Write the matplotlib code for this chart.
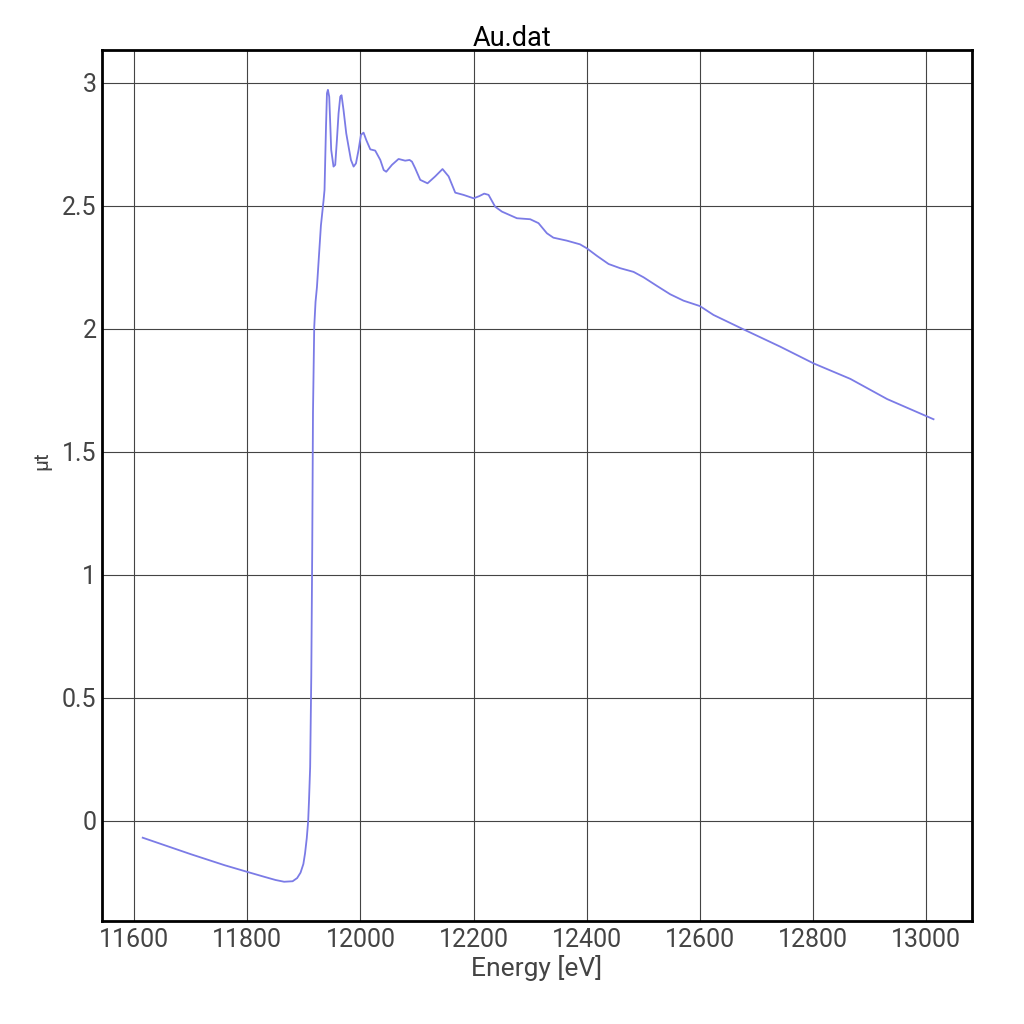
import matplotlib
matplotlib.use("Agg")
import matplotlib.pyplot as plt

energy = [11615, 11700, 11760, 11800, 11830, 11850, 11865, 11880, 11888, 11894,
          11899, 11902, 11905, 11907.5, 11909, 11911, 11913, 11914.7, 11916, 11918.2,
          11920.5, 11923, 11925.8, 11930, 11934.6, 11936.4, 11939, 11940.7, 11942.4, 11944.7,
          11946.5, 11948.2, 11952.3, 11955.3, 11958.3, 11961.2, 11964.2, 11966.5, 11970, 11974.8,
          11978.9, 11983.1, 11987.8, 11992, 11996.6, 12000.8, 12005.4, 12010.2, 12017.3, 12026,
          12035, 12041, 12045.5, 12055.6, 12067.3, 12079, 12086.7, 12091, 12096.7, 12105.6,
          12118.5, 12132, 12145, 12155.8, 12167.5, 12182, 12200, 12210, 12218.7, 12226.4,
          12238, 12250, 12276.5, 12300, 12314.7, 12329.5, 12341, 12364.7, 12388, 12400,
          12418, 12438.6, 12459, 12482.7, 12500.4, 12524, 12547.5, 12571, 12600, 12624,
          12671, 12742, 12801, 12866, 12931, 13013]
mut = [-0.068, -0.135, -0.180, -0.207, -0.227, -0.240, -0.247, -0.245, -0.232, -0.210,
       -0.175, -0.131, -0.070, 0.0, 0.085, 0.22, 0.59, 1.118, 1.66, 2.008,
       2.11, 2.17, 2.27, 2.42, 2.52, 2.565, 2.82, 2.958, 2.972, 2.944,
       2.836, 2.728, 2.66, 2.667, 2.768, 2.876, 2.944, 2.95, 2.89, 2.795,
       2.741, 2.687, 2.66, 2.673, 2.728, 2.789, 2.798, 2.768, 2.73, 2.725,
       2.687, 2.646, 2.639, 2.667, 2.691, 2.684, 2.687, 2.680, 2.653, 2.606,
       2.592, 2.62, 2.65, 2.62, 2.554, 2.545, 2.531, 2.540, 2.55, 2.545,
       2.497, 2.477, 2.45, 2.446, 2.43, 2.389, 2.371, 2.359, 2.344, 2.328,
       2.297, 2.264, 2.247, 2.232, 2.21, 2.175, 2.141, 2.115, 2.093, 2.057,
       2.005, 1.928, 1.86, 1.797, 1.715, 1.633]

x_ticks = [11600, 11800, 12000, 12200, 12400, 12600, 12800, 13000]
y_ticks = [0, 0.5, 1, 1.5, 2, 2.5, 3]
y_tick_labels = ["0", "0.5", "1", "1.5", "2", "2.5", "3"]

plt.rcParams['font.family'] = ['Roboto', 'Noto Sans CJK JP', 'DejaVu Sans']

fig = plt.figure(figsize=(10.24, 10.24), dpi=100)
ax = fig.add_axes([0.0996, 0.1006, 0.8496, 0.8506])

ax.plot(energy, mut, color='#7B7BE6', linewidth=1.3)

ax.set_xlim(11543, 13081)
ax.set_ylim(-0.4065, 3.134)
ax.set_xticks(x_ticks)
ax.set_yticks(y_ticks)
ax.set_yticklabels(y_tick_labels)
ax.grid(True, color='#444444', linewidth=0.8)
ax.set_axisbelow(True)
ax.tick_params(axis='both', length=0, labelsize=18, labelcolor='#444444')
ax.tick_params(axis='x', pad=5)
ax.tick_params(axis='y', pad=4)
for s in ax.spines.values():
    s.set_linewidth(2)
    s.set_color('black')

ax.set_xlabel('Energy [eV]', fontsize=19, color='#444444')
ax.xaxis.set_label_coords(0.5, -0.054)
ax.xaxis.label.set_va('center')
ax.set_ylabel('μt', fontsize=15, color='#444444')
ax.yaxis.set_label_coords(-0.069, 0.528)
ax.yaxis.label.set_va('center')
fig.text(0.5, 0.962, 'Au.dat', ha='center', va='center', fontsize=19.5, color='black')

fig.savefig('out.png', dpi=100)
